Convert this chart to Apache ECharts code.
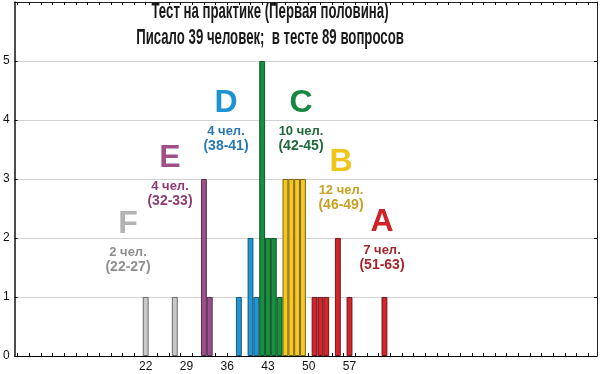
<!DOCTYPE html>
<html>
<head>
<meta charset="utf-8">
<script src="https://cdn.jsdelivr.net/npm/echarts@6/dist/echarts.min.js"></script>
<style>
html,body{margin:0;padding:0;background:#fff;}
#chart{width:600px;height:374px;}
</style>
</head>
<body>
<div id="chart"></div>
<script>
// ---- data ----
const titleLine1 = 'Тест на практике (Первая половина)';
const titleLine2 = 'Писало 39 человек;  в тесте 89 вопросов';
const groupLetters = ['F', 'E', 'D', 'C', 'B', 'A'];
const groupScores = [[22, 27], [32, 33], [38, 40, 41], [42, 43, 44, 45], [46, 47, 48, 49], [51, 52, 53, 55, 57, 63]];
const groupCounts = [[1, 1], [3, 1], [1, 2, 1], [5, 2, 2, 1], [3, 3, 3, 3], [1, 1, 1, 2, 1, 1]];
const groupPeople = ['2 чел.', '4 чел.', '4 чел.', '10 чел.', '12 чел.', '7 чел.'];
const groupRanges = ['(22-27)', '(32-33)', '(38-41)', '(42-45)', '(46-49)', '(51-63)'];
const xTickLabels = [22, 29, 36, 43, 50, 57];
const yTickLabels = [0, 1, 2, 3, 4, 5];

// ---- styles ----
const barColors = ['#c9c9c9', '#9d4f8b', '#1f97d7', '#15913f', '#f6c81d', '#d5242b'];
const barBorders = ['#5e5e5e', '#4a2242', '#124a6c', '#0a4520', '#6a550e', '#5e1013'];
const letterColors = ['#b3b3b3', '#a05088', '#1e93d3', '#17873f', '#f2c318', '#cf2229'];
const textColors = ['#8f8f8f', '#8d3c74', '#2a79b3', '#1f6a3a', '#c7a125', '#a3262d'];
// annotation anchor positions (pixels): letter centre x, letter centre y
const annPos = [[128, 224], [170, 158], [226, 103], [301, 103], [341, 162], [382, 222]];

const chart = echarts.init(document.getElementById('chart'), null, {renderer: 'canvas'});

const xMinor = [];
for (let v = 0; v <= 98; v += 2) xMinor.push(v);

const series = groupLetters.map((L, i) => ({
  type: 'bar',
  name: L,
  barWidth: 5.8,
  barGap: '-100%',
  data: groupScores[i].map((s, j) => [s, groupCounts[i][j]]),
  itemStyle: {color: barColors[i], borderColor: barBorders[i], borderWidth: 0.9},
  silent: true
}));

const titleFont = 'bold 22px "Liberation Sans", Arial, sans-serif';
const g = [];
g.push({type: 'text', x: 270, y: 12, scaleX: 0.6, style: {text: titleLine1, font: titleFont, fill: '#1a1a1a', align: 'center', verticalAlign: 'middle'}});
g.push({type: 'text', x: 270, y: 38, scaleX: 0.6, style: {text: titleLine2, font: titleFont, fill: '#1a1a1a', align: 'center', verticalAlign: 'middle'}});
groupLetters.forEach((L, i) => {
  const [cx, cy] = annPos[i];
  g.push({type: 'text', x: cx, y: cy, style: {text: L, font: 'bold 32px "Liberation Sans", Arial, sans-serif', fill: letterColors[i], align: 'center', verticalAlign: 'middle'}});
  g.push({type: 'text', x: cx, y: cy + 28, style: {text: groupPeople[i], font: 'bold 13px "Liberation Sans", Arial, sans-serif', fill: textColors[i], align: 'center', verticalAlign: 'middle'}});
  g.push({type: 'text', x: cx, y: cy + 43, style: {text: groupRanges[i], font: 'bold 14px "Liberation Sans", Arial, sans-serif', fill: textColors[i], align: 'center', verticalAlign: 'middle'}});
});

const option = {
  animation: false,
  backgroundColor: '#fff',
  grid: {left: 14, right: 3, top: 2, bottom: 18, containLabel: false},
  xAxis: [{
    type: 'value', min: -0.5, max: 99.5, position: 'bottom',
    axisLine: {show: true, onZero: false, lineStyle: {color: '#000', width: 1.2}},
    axisTick: {show: true, inside: true, length: 3, customValues: xMinor, lineStyle: {color: '#000'}},
    axisLabel: {show: true, customValues: xTickLabels, color: '#111', fontSize: 12, fontFamily: '"Liberation Sans", Arial, sans-serif', margin: 5},
    splitLine: {show: false}
  }, {
    type: 'value', min: -0.5, max: 99.5, position: 'top',
    axisLine: {show: true, onZero: false, lineStyle: {color: '#222', width: 1}},
    axisTick: {show: true, inside: true, length: 3, customValues: xMinor, lineStyle: {color: '#000'}},
    axisLabel: {show: false},
    splitLine: {show: false}
  }],
  yAxis: [{
    type: 'value', min: 0, max: 6, interval: 1, position: 'left',
    axisLine: {show: true, onZero: false, lineStyle: {color: '#111', width: 1.5}},
    axisTick: {show: true, inside: true, length: 3, lineStyle: {color: '#000'}},
    axisLabel: {show: true, customValues: yTickLabels, color: '#111', fontSize: 12, fontFamily: '"Liberation Sans", Arial, sans-serif', margin: 5},
    splitLine: {show: true, lineStyle: {color: '#d2d2d2', width: 1}}
  }, {
    type: 'value', min: 0, max: 6, interval: 1, position: 'right',
    axisLine: {show: true, onZero: false, lineStyle: {color: '#222', width: 1}},
    axisTick: {show: true, inside: true, length: 3, lineStyle: {color: '#000'}},
    axisLabel: {show: false},
    splitLine: {show: false}
  }],
  series: series,
  graphic: {elements: g}
};
chart.setOption(option);
</script>
</body>
</html>
